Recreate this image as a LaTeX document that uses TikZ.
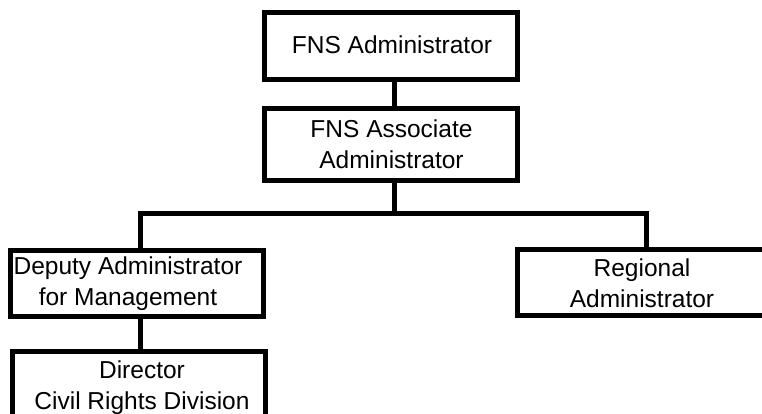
\documentclass[tikz,border=0pt]{standalone}
\usepackage{fontspec}
\setmainfont{Liberation Sans}
\begin{document}
\begin{tikzpicture}[x=1pt,y=-1pt,
  box/.style={draw=black, line width=5.5pt, rectangle, inner sep=0pt, fill=white},
  lbl/.style={font=\fontsize{24.5}{31}\selectfont, align=center, inner sep=0pt},
  conn/.style={line width=5pt, draw=black}]
\useasboundingbox (0,0) rectangle (762,414);
\clip (0,0) rectangle (762,414);
\fill[white] (0,0) rectangle (762,414);
% boxes
\node[box, minimum width=253pt, minimum height=67pt] (adm) at (391,46) {};
\node[box, minimum width=253pt, minimum height=72pt] (asc) at (391,144.5) {};
\node[box, minimum width=253pt, minimum height=66pt] (dep) at (137,283.5) {};
\node[box, minimum width=253pt, minimum height=72pt] (dir) at (139,387.5) {};
\node[box, minimum width=250pt, minimum height=66pt] (reg) at (642.5,282.5) {};
% labels
\node[lbl] (admt) at (392,45) {FNS Administrator};
\node[lbl] (asct) at (391.5,144) {FNS Associate\\Administrator};
\node[lbl] (dept) at (128,284) {Deputy Administrator\\for Management};
\node[lbl] (dirt) at (142,388) {Director\\Civil Rights Division};
\node[lbl] (regt) at (642,283) {Regional\\Administrator};
% connectors
\coordinate (j) at (394,213);
\coordinate (jl) at (140,213);
\coordinate (jr) at (646,213);
\draw[conn] (adm.south -| j) -- (asc.north -| j);
\draw[conn] (asc.south -| j) -- (j);
\draw[conn] (dep.north -| jl) -- (jl) -- (jr) -- (reg.north -| jr);
\draw[conn] (dep.south -| jl) -- (dir.north -| jl);
\end{tikzpicture}
\end{document}
